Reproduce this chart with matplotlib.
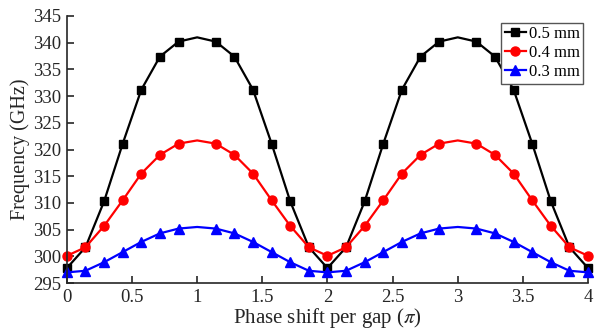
import numpy as np
import matplotlib
matplotlib.use("Agg")
import matplotlib.pyplot as plt

plt.rcParams['font.family'] = ['Liberation Serif', 'DejaVu Serif']
plt.rcParams['mathtext.fontset'] = 'stix'

# phase shift per gap (units of pi), sampled every 1/7
phase = [k / 7 for k in range(29)]

freq_05 = [297.8, 301.7, 310.3, 321.1, 331.2, 337.4, 340.2, 341.0, 340.2, 337.4, 331.2, 321.1, 310.3, 301.7, 297.8,
           301.7, 310.3, 321.1, 331.2, 337.4, 340.2, 341.0, 340.2, 337.4, 331.2, 321.1, 310.3, 301.7, 297.8]
freq_04 = [300.1, 301.7, 305.7, 310.5, 315.5, 319.0, 321.1, 321.7, 321.1, 319.0, 315.5, 310.5, 305.7, 301.7, 300.1,
           301.7, 305.7, 310.5, 315.5, 319.0, 321.1, 321.7, 321.1, 319.0, 315.5, 310.5, 305.7, 301.7, 300.1]
freq_03 = [297.0, 297.3, 298.9, 300.8, 302.7, 304.3, 305.2, 305.5, 305.2, 304.3, 302.7, 300.8, 298.9, 297.3, 297.0,
           297.3, 298.9, 300.8, 302.7, 304.3, 305.2, 305.5, 305.2, 304.3, 302.7, 300.8, 298.9, 297.3, 297.0]

labels = ['0.5 mm', '0.4 mm', '0.3 mm']
colors = ['black', '#ff0000', '#0000ff']
markers = ['s', 'o', '^']
msizes = [5.5, 6.5, 6.5]

xticks = [0, 0.5, 1, 1.5, 2, 2.5, 3, 3.5, 4]
xticklabels = ['0', '0.5', '1', '1.5', '2', '2.5', '3', '3.5', '4']
yticks = [295, 300, 305, 310, 315, 320, 325, 330, 335, 340, 345]

# marker positions (no marker drawn at the peaks x=1 and x=3)
mark_idx = [i for i in range(29) if i not in (7, 21)]

fig = plt.figure(figsize=(5.97, 3.33), dpi=100)
ax = fig.add_axes([0.112, 0.150, 0.873, 0.802])

for y, lab, c, m, ms in zip([freq_05, freq_04, freq_03], labels, colors, markers, msizes):
    ax.plot(phase, y, color=c, marker=m, markersize=ms, lw=1.6, markevery=mark_idx, label=lab,
            clip_on=False)

ax.set_xlim(0, 4)
ax.set_ylim(295, 345)
ax.set_xticks(xticks)
ax.set_xticklabels(xticklabels)
ax.set_yticks(yticks)
for s in ['top', 'right']:
    ax.spines[s].set_visible(False)
for s in ['left', 'bottom']:
    ax.spines[s].set_color('#262626')
    ax.spines[s].set_linewidth(1.2)
ax.tick_params(direction='in', length=5, width=1.2, colors='#262626', labelsize=13.5, pad=4)
ax.set_xlabel('Phase shift per gap ($\\pi$)', fontsize=15, color='#262626', labelpad=0)
ax.set_ylabel('Frequency (GHz)', fontsize=14.5, color='#262626', labelpad=2)

leg = ax.legend(loc='upper right', bbox_to_anchor=(0.991, 0.975), fontsize=12, handlelength=1.3,
                handletextpad=0.15, borderpad=0.22, labelspacing=0.18, borderaxespad=0.0,
                fancybox=False, framealpha=1, edgecolor='#555555')
leg.get_frame().set_linewidth(1.0)

fig.savefig('out.png', dpi=100)
